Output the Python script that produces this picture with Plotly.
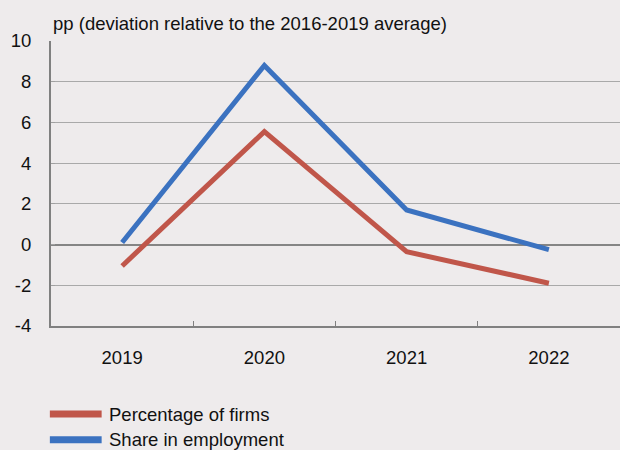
import plotly.graph_objects as go

years = ["2019", "2020", "2021", "2022"]
pct_firms = [-1.05, 5.55, -0.35, -1.9]
share_emp = [0.1, 8.8, 1.7, -0.25]
y_ticks = [-4, -2, 0, 2, 4, 6, 8, 10]
series_names = ["Percentage of firms", "Share in employment"]

BG = "#eeebec"
RED = "#c0564a"
BLUE = "#3b72c0"
FONT = "Liberation Sans, Arial, sans-serif"
FS = 18.5

xpos = list(range(len(years)))

fig = go.Figure()
fig.add_trace(go.Scatter(x=xpos, y=pct_firms, mode="lines", name=series_names[0],
                         line=dict(color=RED, width=5), showlegend=False))
fig.add_trace(go.Scatter(x=xpos, y=share_emp, mode="lines", name=series_names[1],
                         line=dict(color=BLUE, width=5), showlegend=False))

fig.update_layout(
    width=620, height=450,
    margin=dict(l=51, r=0, t=41, b=124),
    paper_bgcolor=BG, plot_bgcolor=BG,
    font=dict(family=FONT, size=FS, color="#111111"),
    xaxis=dict(range=[-0.5, 3.5], tickvals=xpos, ticktext=years,
               ticks="", showgrid=False, zeroline=False, automargin=False,
               showline=True, linecolor="#808080", linewidth=2,
               ticklabelstandoff=14,
               minor=dict(tickvals=[0.5, 1.5, 2.5], ticks="inside", ticklen=5,
                          tickcolor="#808080", tickwidth=1, showgrid=False)),
    yaxis=dict(range=[-4, 10], tickvals=y_ticks, ticktext=[str(v) for v in y_ticks],
               showgrid=True, gridcolor="#a9a9a9", automargin=False,
               gridwidth=1, zeroline=True, zerolinecolor="#858585", zerolinewidth=1.5,
               showline=True, linecolor="#808080", linewidth=2, mirror=False,
               ticks="inside", ticklen=4, tickcolor="#a0a0a0",
               ticklabelstandoff=14),
    showlegend=False,
)

fig.add_annotation(text="pp (deviation relative to the 2016-2019 average)",
                   xref="paper", yref="paper", x=0.0, y=1.0, yshift=18,
                   xanchor="left", yanchor="middle", showarrow=False,
                   font=dict(size=FS, color="#111111"))

# manual legend
leg_y = [-0.309, -0.399]
for name, col, yy in zip(series_names, [RED, BLUE], leg_y):
    fig.add_shape(type="line", xref="paper", yref="paper", x0=-0.002, x1=0.089,
                  y0=yy, y1=yy, line=dict(color=col, width=7))
    fig.add_annotation(text=name, xref="paper", yref="paper", x=0.098, y=yy,
                       xanchor="left", yanchor="middle", showarrow=False,
                       font=dict(size=FS, color="#111111"))

fig.write_html("out.html")
